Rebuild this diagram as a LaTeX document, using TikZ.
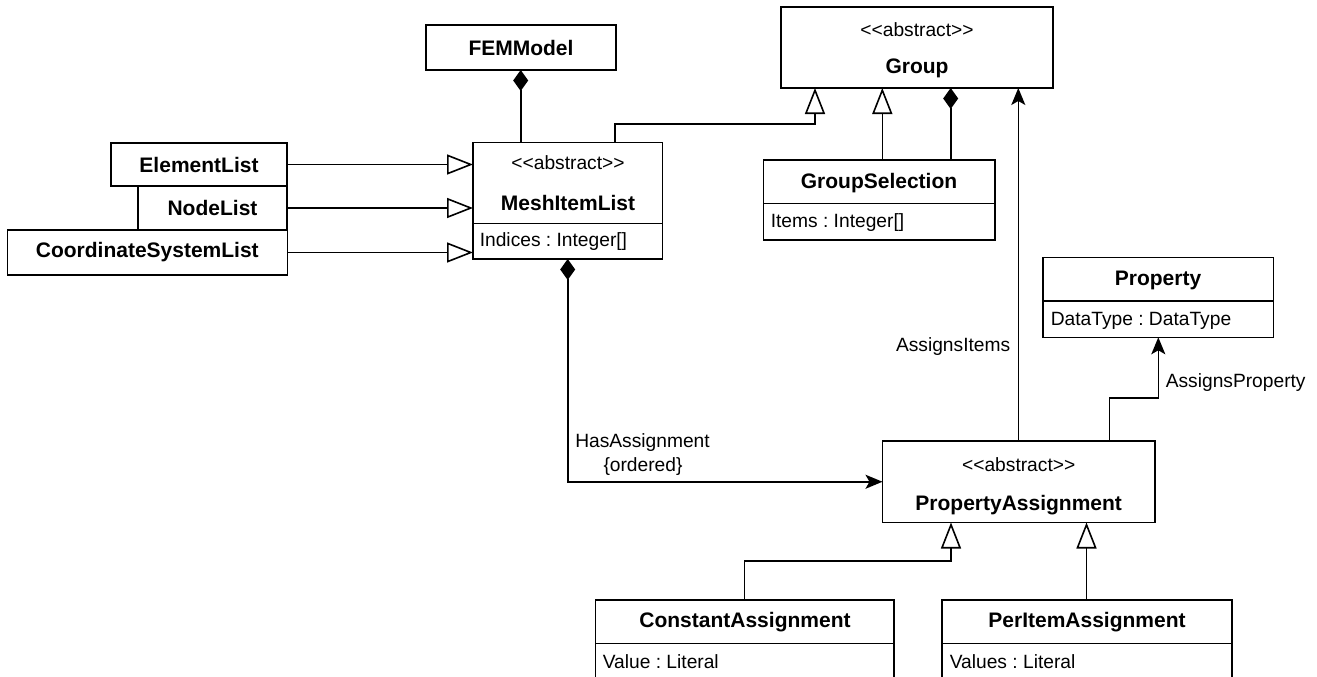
\documentclass[tikz,border=0pt]{standalone}
\usepackage{fontspec}
\setmainfont{Liberation Sans}[Ligatures=TeXOff]
\usetikzlibrary{arrows.meta}
\frenchspacing
\tikzset{
  x=1pt, y=-1pt,
  every path/.style={line width=1.6pt},
  box/.style={draw, line width=1.6pt, anchor=north west, inner sep=0, outer sep=0},
  cname/.style={font=\bfseries\fontsize{21}{24}\selectfont, inner sep=0},
  attr/.style={font=\fontsize{19.2}{22}\selectfont, inner sep=0},
  gen/.style={-{Triangle[open, length=26pt, width=20pt, fill=white]}},
  comp/.style={-{Diamond[length=21pt, width=15pt]}},
  nav/.style={-{Stealth[length=17pt, width=14pt, inset=4pt]}},
}
\begin{document}
\begin{tikzpicture}
\useasboundingbox (0,0) rectangle (1317,677);

% boxes
\node[box, minimum width=190pt, minimum height=45pt] (fem) at (426,25) {};
\node[box, minimum width=272pt, minimum height=80.7pt] (group) at (781,7.3) {};
\node[box, minimum width=176pt, minimum height=43pt] (el) at (111,143) {};
\node[box, minimum width=149pt, minimum height=44pt] (nl) at (138,186) {};
\node[box, minimum width=280pt, minimum height=45pt] (cs) at (7.3,230) {};
\node[box, minimum width=189.5pt, minimum height=116.5pt] (mesh) at (473,142.5) {};
\node[box, minimum width=231.7pt, minimum height=80pt] (gsel) at (763.3,160) {};
\node[box, minimum width=230.6pt, minimum height=80pt] (prop) at (1042.7,257.3) {};
\node[box, minimum width=272.5pt, minimum height=81.5pt] (pa) at (882.5,441) {};
\node[box, minimum width=298.5pt, minimum height=120pt] (ca) at (595.5,600) {};
\node[box, minimum width=289.7pt, minimum height=120pt] (pia) at (942,600) {};

% dividers
\draw (mesh.west |- 0,223.5) -- (mesh.east |- 0,223.5);
\draw (gsel.west |- 0,203.3) -- (gsel.east |- 0,203.3);
\draw (prop.west |- 0,300.7) -- (prop.east |- 0,300.7);
\draw (ca.west |- 0,643.3) -- (ca.east |- 0,643.3);
\draw (pia.west |- 0,643.3) -- (pia.east |- 0,643.3);

% texts
\node[cname] (femT) at (fem.center) {FEMModel};
\node[attr] (groupS) at (917,29.3) {<<abstract>>};
\node[cname] (groupT) at (917,68) {Group};
\node[cname] (elT) at (el.center) {ElementList};
\node[cname] (nlT) at (nl.center) {NodeList};
\node[cname] (csT) at (cs.center) {CoordinateSystemList};
\node[attr] (meshS) at (568,163) {<<abstract>>};
\node[cname] (meshT) at (568,203) {MeshItemList};
\node[attr, anchor=west] (meshA) at (479,242) {Indices : Integer[]};
\node[cname] (gselT) at (879,183) {GroupSelection};
\node[attr, anchor=west] (gselA) at (770,223) {Items : Integer[]};
\node[cname] (propT) at (1158,280) {Property};
\node[attr, anchor=west] (propA) at (1050,320.7) {DataType : DataType};
\node[attr] (paS) at (1018.7,465) {<<abstract>>};
\node[cname] (paT) at (1018.7,505) {PropertyAssignment};
\node[cname] (caT) at (745,622) {ConstantAssignment};
\node[attr, anchor=west] (caA) at (602,662) {Value : Literal};
\node[cname] (piaT) at (1087,622) {PerItemAssignment};
\node[attr, anchor=west] (piaA) at (949,662) {Values : Literal};

% connectors
\draw[gen] (el.east) -- (mesh.west |- el.east);
\draw[gen] (nl.east) -- (mesh.west |- nl.east);
\draw[gen] (cs.east) -- (mesh.west |- cs.east);
\draw[comp] (mesh.north -| 520.7,0) -- (fem.south -| 520.7,0);
\draw[gen] (mesh.north -| 615,0) -- (615,124) -- (815,124) -- (group.south -| 815,0);
\draw[gen] (gsel.north -| 882.3,0) -- (group.south -| 882.3,0);
\draw[comp] (gsel.north -| 950.7,0) -- (group.south -| 950.7,0);
\draw[nav] (pa.north -| 1018.3,0) -- (group.south -| 1018.3,0);
\draw[nav] (pa.north -| 1109.3,0) -- (1109.3,397.7) -- (1158.3,397.7) -- (prop.south -| 1158.3,0);
\draw[{Diamond[length=21pt, width=15pt]}-{Stealth[length=17pt, width=14pt, inset=4pt]}]
  (mesh.south -| 567.7,0) |- (pa.west);
\draw[gen] (ca.north -| 744.3,0) -- (744.3,561) -- (951,561) -- (pa.south -| 951,0);
\draw[gen] (pia.north -| 1086.5,0) -- (pa.south -| 1086.5,0);

% connector labels
\node[attr, anchor=east] (lItems) at (1011,347) {AssignsItems};
\node[attr, anchor=west] (lProp) at (1165,383) {AssignsProperty};
\node[attr] (lHas) at (642.5,442.7) {HasAssignment};
\node[attr] (lOrd) at (643,466.7) {\{ordered\}};
\end{tikzpicture}
\end{document}
